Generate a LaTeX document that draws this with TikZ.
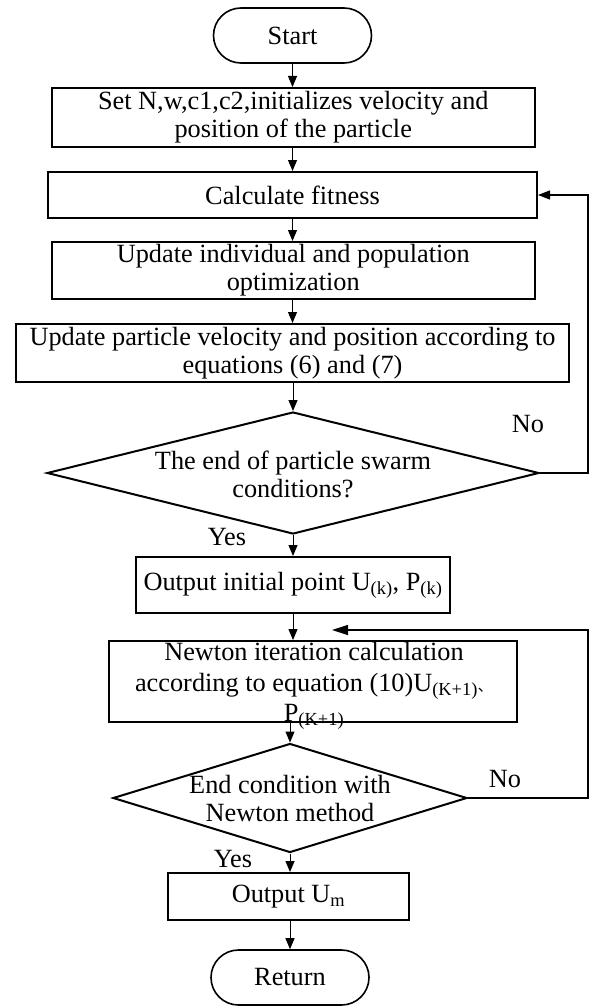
\documentclass[tikz,border=0pt]{standalone}
\usepackage{fontspec}
\setmainfont{Liberation Serif}
\newfontfamily\cjkfont{Noto Sans CJK SC}
\usetikzlibrary{shapes.geometric,shapes.misc,arrows.meta}
\begin{document}
\begin{tikzpicture}[x=1pt,y=-1pt,
  font=\fontsize{26.3}{28}\selectfont,
  box/.style={draw,line width=2pt,inner sep=0pt,align=center,rectangle},
  term/.style={draw,line width=1.6pt,rounded rectangle,inner sep=0pt,minimum width=158pt,minimum height=55pt},
  dia/.style={draw,line width=2pt,diamond,inner sep=0pt},
  txt/.style={inner sep=0pt,align=center},
  arr/.style={line width=1pt,-{Triangle[length=11pt,width=9pt]}},
  back/.style={line width=1.2pt,-{Triangle[length=12pt,width=9pt]}},
  backbig/.style={line width=1.2pt,-{Triangle[length=16pt,width=10pt]}}]
\useasboundingbox (0,0) rectangle (589,1006);
% nodes
\node[term] (start) at (292.5,35.5) {Start};
\node[box,minimum width=483.5pt,minimum height=59pt] (b1) at (293.25,117.5) {Set N,w,c1,c2,initializes velocity and\\position of the particle};
\node[box,minimum width=489pt,minimum height=46pt] (b2) at (292.5,195) {Calculate fitness};
\node[box,minimum width=483.5pt,minimum height=57pt] (b3) at (293.25,270.5) {Update individual and population\\optimization};
\node[box,minimum width=553pt,minimum height=58pt] (b4) at (292.5,353) {Update particle velocity and position according to\\equations (6) and (7)};
\node[dia,minimum width=492pt,minimum height=122pt] (d1) at (293,473) {};
\node[txt] (d1t) at (293,474) {The end of particle swarm\\conditions?};
\node[box,minimum width=314pt,minimum height=56pt] (b5) at (293,585) {Output initial point U\textsubscript{(k)}, P\textsubscript{(k)}};
\node[box,minimum width=408pt,minimum height=81pt] (b6) at (313,681.5) {};
\node[txt,font=\fontsize{26.3}{30.5}\selectfont] (b6t) at (314,686) {Newton iteration calculation\\according to equation (10)U\textsubscript{(K+1)}{\cjkfont\fontsize{15}{15}\selectfont 、}\\P\textsubscript{(K+1)}};
\node[dia,minimum width=354pt,minimum height=109pt] (d2) at (290,798) {};
\node[txt] (d2t) at (290,798) {End condition with\\Newton method};
\node[box,minimum width=241pt,minimum height=47pt] (b7) at (288.5,896.5) {Output U\textsubscript{m}};
\node[term] (ret) at (290,977.5) {Return};
% labels
\node[txt] (no1) at (528,424) {No};
\node[txt] (yes1) at (227,537) {Yes};
\node[txt] (no2) at (505,779) {No};
\node[txt] (yes2) at (233,859) {Yes};
% helper coordinates
\coordinate (rx) at (588,0);
\coordinate (nt) at (332,630);
% connectors
\draw[arr] (start.south) -- (start.south |- b1.north);
\draw[arr] (b1.south -| start.south) -- (b2.north -| start.south);
\draw[arr] (b2.south -| start.south) -- (b3.north -| start.south);
\draw[arr] (b3.south -| start.south) -- (b4.north -| start.south);
\draw[arr] (b4.south -| d1.north) -- (d1.north);
\draw[arr] (d1.south) -- (b5.north -| d1.south);
\draw[arr] (b5.south) -- (b5.south |- b6.north);
\draw[arr] (b6.south -| d2.north) -- (d2.north);
\draw[arr] (d2.south) -- (b7.north -| d2.south);
\draw[arr] (b7.south -| ret.north) -- (ret.north);
\draw[back] (d1.east) -- (d1.east -| rx) |- (b2.east);
\draw[backbig] (d2.east) -- (d2.east -| rx) |- (nt);
\end{tikzpicture}
\end{document}
